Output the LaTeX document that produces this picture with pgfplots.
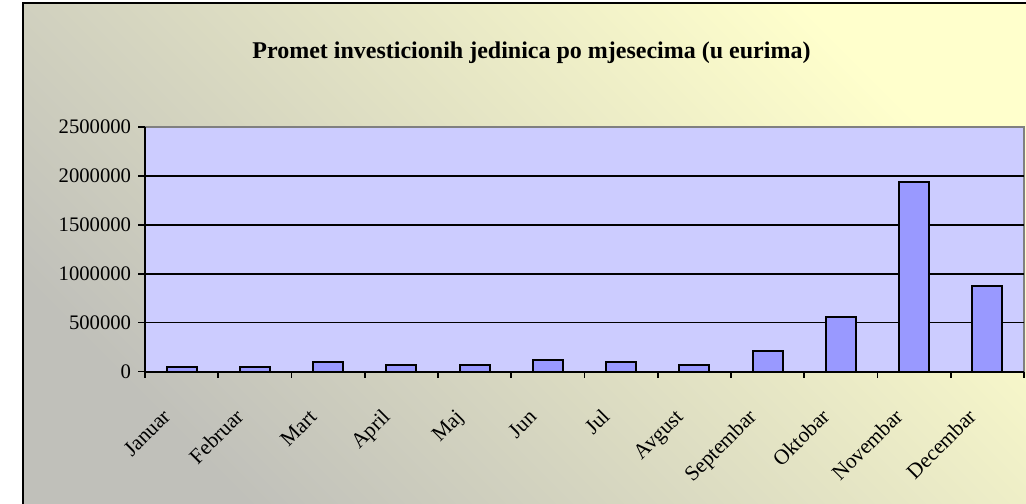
\documentclass[border=0pt]{standalone}
\usepackage{fontspec}
\setmainfont{Liberation Serif}
\usepackage{pgfplots}
\pgfplotsset{compat=1.18}
\definecolor{plotbg}{HTML}{CCCCFF}
\definecolor{barfill}{HTML}{9999FF}
\definecolor{bgA}{RGB}{255,255,204}
\definecolor{bgB}{RGB}{192,192,186}
\begin{document}
\begin{tikzpicture}
\clip (0,0) rectangle (769.5pt,378pt);
\shade[top color=bgA, bottom color=bgB, shading angle=-45] (17.25pt,375.75pt) rectangle (769.5pt,0pt);
\draw[line width=1.9pt] (17.25pt,-20pt) -- (17.25pt,375.75pt) -- (790pt,375.75pt);
\node[font=\fontsize{18}{21}\selectfont\bfseries, anchor=base] at (398.6pt,334.3pt) {Promet investicionih jedinica po mjesecima (u eurima)};
\begin{axis}[
  at={(108.75pt,99.3pt)}, anchor=south west,
  scale only axis, width=659.25pt, height=183.45pt,
  xmin=-0.5, xmax=11.5, ymin=0, ymax=2500000,
  axis x line*=bottom, axis y line*=left,
  axis background/.style={fill=plotbg, draw=gray, line width=1.5pt},
  axis line style={black, line width=1.5pt, -},
  ytick={0,500000,1000000,1500000,2000000},
  extra y ticks={2500000},
  extra y tick style={grid=none},
  ymajorgrids, grid style={black, line width=1.2pt},
  xtick={0,...,11},
  xticklabels={Januar,Februar,Mart,April,Maj,Jun,Jul,Avgust,Septembar,Oktobar,Novembar,Decembar},
  minor xtick={-0.5,0.5,...,11.5},
  major x tick style={draw=none},
  tick align=outside,
  tick style={black, line width=1.2pt},
  major tick length=5.25pt, minor tick length=4.5pt,
  scaled y ticks=false,
  /pgf/number format/fixed, /pgf/number format/1000 sep={},
  /pgf/number format/assume math mode=true,
  yticklabel style={font=\fontsize{15.5}{18}\selectfont, anchor=east, inner sep=0pt, xshift=-5pt},
  xticklabel style={font=\fontsize{16}{18}\selectfont, inner sep=0pt, xshift=-7.5pt, yshift=-29.5pt, rotate=45, anchor=base east},
]
\addplot[ybar, bar width=22.5pt, fill=barfill, draw=black, line width=1.5pt] coordinates {
(0,44000) (1,44000) (2,95000) (3,67000) (4,67000) (5,122000)
(6,95000) (7,67000) (8,208000) (9,555000) (10,1942000) (11,878000)
};
\end{axis}
\end{tikzpicture}
\end{document}
